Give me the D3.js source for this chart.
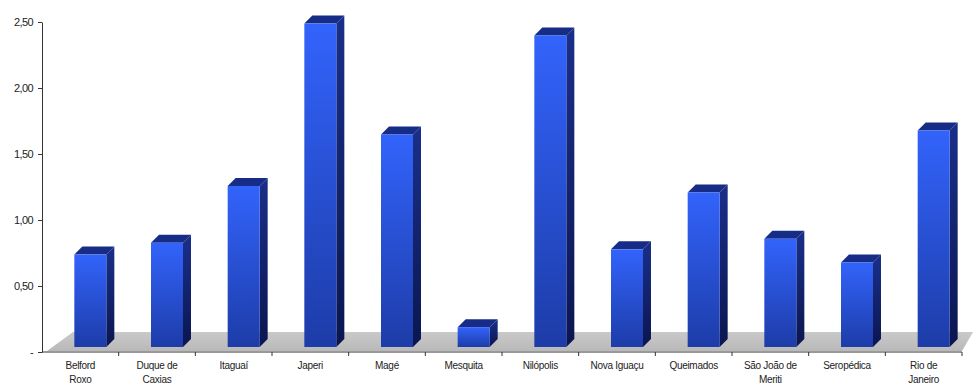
<!DOCTYPE html>
<html>
<head>
<meta charset="utf-8">
<script src="https://cdn.jsdelivr.net/npm/d3@7"></script>
<style>
  body { margin: 0; background: #fff; }
  svg text { font-family: "Liberation Sans", Arial, sans-serif; fill: #222; }
</style>
</head>
<body>
<svg id="chart" width="973" height="389"></svg>
<script>
const municipios = ['Belford Roxo', 'Duque de Caxias', 'Itaguaí', 'Japeri', 'Magé', 'Mesquita',
  'Nilópolis', 'Nova Iguaçu', 'Queimados', 'São João de Meriti', 'Seropédica', 'Rio de Janeiro'];
const labelLines = [['Belford', 'Roxo'], ['Duque de', 'Caxias'], ['Itaguaí'], ['Japeri'], ['Magé'],
  ['Mesquita'], ['Nilópolis'], ['Nova Iguaçu'], ['Queimados'], ['São João de', 'Meriti'],
  ['Seropédica'], ['Rio de', 'Janeiro']];
const valores = [0.70, 0.79, 1.22, 2.45, 1.61, 0.15, 2.36, 0.74, 1.17, 0.82, 0.64, 1.64];
const yTicks = [0, 0.5, 1, 1.5, 2, 2.5];
const yTickLabels = ['-', '0,50', '1,00', '1,50', '2,00', '2,50'];

const svg = d3.select('#chart');
const mLeft = 42, mRight = 962, mTop = 22, mBottom = 352;

const x = d3.scaleBand().domain(municipios).range([mLeft, mRight]).padding(0);
const y = d3.scaleLinear().domain([0, 2.5]).range([mBottom, mTop]);

// 3d offsets
const barW = 32, shiftX = 10, shiftY = 5, depthX = 8, depthY = 8;

const defs = svg.append('defs');
const grad = defs.append('linearGradient').attr('id', 'front')
  .attr('x1', 0).attr('y1', 0).attr('x2', 0).attr('y2', 1);
grad.append('stop').attr('offset', '0%').attr('stop-color', '#3263fb');
grad.append('stop').attr('offset', '100%').attr('stop-color', '#1d3ca8');
const gradS = defs.append('linearGradient').attr('id', 'side')
  .attr('x1', 0).attr('y1', 0).attr('x2', 0).attr('y2', 1);
gradS.append('stop').attr('offset', '0%').attr('stop-color', '#1a2f8a');
gradS.append('stop').attr('offset', '100%').attr('stop-color', '#0b1650');
const gradF = defs.append('linearGradient').attr('id', 'floor')
  .attr('x1', 0).attr('y1', 0).attr('x2', 0).attr('y2', 1);
gradF.append('stop').attr('offset', '0%').attr('stop-color', '#c9c9c9');
gradF.append('stop').attr('offset', '100%').attr('stop-color', '#b9b9b9');

// floor
svg.append('path')
  .attr('d', `M${mLeft + 5},${mBottom - 1} L${mLeft + 31},${mBottom - 20} L${mRight + 11},${mBottom - 20} L${mRight},${mBottom - 1} Z`)
  .attr('fill', 'url(#floor)');

const bars = svg.append('g').selectAll('g')
  .data(municipios)
  .join('g');

function fx(d) { return x(d) + (x.bandwidth() - barW) / 2 + shiftX; }
function fy(i) { return y(valores[i]) - shiftY; }
const base = y(0) - shiftY;

// side face
bars.append('path')
  .attr('d', (d, i) => {
    const x0 = fx(d) + barW, y0 = fy(i);
    return `M${x0},${y0} L${x0 + depthX},${y0 - depthY} L${x0 + depthX},${base - depthY} L${x0},${base} Z`;
  })
  .attr('fill', 'url(#side)');
// top face
bars.append('path')
  .attr('d', (d, i) => {
    const x0 = fx(d), y0 = fy(i);
    return `M${x0},${y0} L${x0 + depthX},${y0 - depthY} L${x0 + barW + depthX},${y0 - depthY} L${x0 + barW},${y0} Z`;
  })
  .attr('fill', '#172c86');
// front face
bars.append('rect')
  .attr('x', d => fx(d))
  .attr('y', (d, i) => fy(i))
  .attr('width', barW)
  .attr('height', (d, i) => base - fy(i))
  .attr('fill', 'url(#front)');

// y axis
const yAxis = d3.axisLeft(y).tickValues(yTicks)
  .tickFormat((d, i) => yTickLabels[i]).tickSize(4).tickSizeOuter(0).tickPadding(5);
const gy = svg.append('g').attr('transform', `translate(${mLeft},0)`).call(yAxis);
gy.select('.domain').attr('stroke', '#333');
gy.selectAll('.tick line').attr('stroke', '#333');
gy.selectAll('.tick text').attr('font-size', 11).attr('letter-spacing', '-0.6px')
  .attr('font-family', '"Liberation Sans", Arial, sans-serif').attr('fill', '#222');

// x axis
const gx = svg.append('g').attr('transform', `translate(0,${mBottom})`);
gx.append('line').attr('x1', mLeft).attr('x2', mRight).attr('stroke', '#333');
gx.selectAll('.sep')
  .data(municipios)
  .join('line')
  .attr('class', 'sep')
  .attr('x1', d => x(d) + x.bandwidth())
  .attr('x2', d => x(d) + x.bandwidth())
  .attr('y1', 0).attr('y2', 4)
  .attr('stroke', '#333');
gx.selectAll('text.lbl')
  .data(municipios)
  .join('text')
  .attr('class', 'lbl')
  .attr('text-anchor', 'middle')
  .attr('font-size', 10)
  .attr('letter-spacing', '-0.3px')
  .each(function(d, i) {
    const t = d3.select(this);
    labelLines[i].forEach((line, k) => {
      t.append('tspan')
        .attr('x', x(d) + x.bandwidth() / 2)
        .attr('y', 17 + k * 14)
        .text(line);
    });
  });
</script>
</body>
</html>
